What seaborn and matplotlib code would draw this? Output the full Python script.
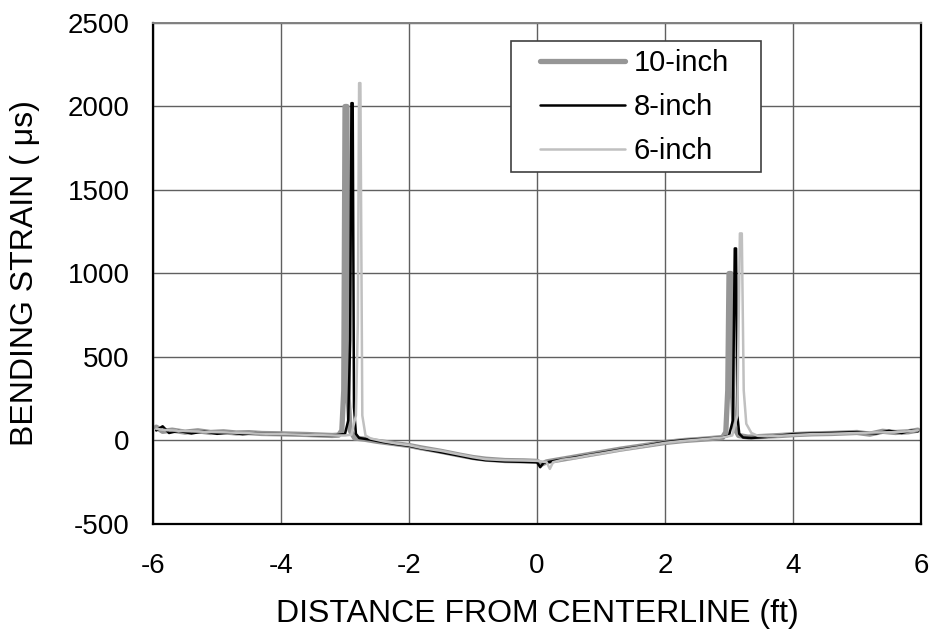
import matplotlib
matplotlib.use("Agg")
import matplotlib.pyplot as plt
from matplotlib.patches import Rectangle
import seaborn as sns
import pandas as pd

# data
x_10 = [-5.95, -5.85, -5.7, -5.5, -5.3, -5.1, -4.9, -4.7, -4.5, -4.3, -4.0, -3.8, -3.6, -3.4, -3.2,
        -3.1, -3.05, -3.02, -3.0, -2.97, -2.95, -2.92, -2.85, -2.7, -2.5, -2.2, -2.0, -1.8, -1.5,
        -1.2, -1.0, -0.8, -0.5, -0.2, 0.0, 0.08, 0.15, 0.3, 0.5, 0.8, 1.0, 1.3, 1.6, 2.0, 2.3, 2.6,
        2.9, 2.95, 2.98, 3.0, 3.03, 3.05, 3.08, 3.15, 3.3, 3.5, 3.8, 4.0, 4.3, 4.6, 5.0, 5.2, 5.4,
        5.6, 5.8, 5.95]
y_10 = [80, 55, 62, 50, 58, 48, 52, 45, 47, 42, 40, 38, 36, 33, 30,
        32, 60, 300, 2000, 2000, 250, 60, 15, 8, -5, -20, -30, -45, -65,
        -88, -102, -112, -120, -122, -125, -140, -128, -118, -105, -85, -72, -52, -35, -12, 0, 8,
        18, 50, 300, 1000, 1000, 320, 80, 30, 20, 24, 30, 35, 40, 42, 48, 38, 55,
        48, 52, 62]

x_8 = [-5.95, -5.85, -5.75, -5.6, -5.4, -5.2, -5.0, -4.8, -4.6, -4.4, -4.2, -4.0, -3.8, -3.6, -3.4,
       -3.2, -3.0, -2.95, -2.92, -2.9, -2.88, -2.86, -2.83, -2.78, -2.6, -2.4, -2.2, -2.0, -1.8,
       -1.5, -1.2, -1.0, -0.8, -0.5, -0.2, 0.0, 0.05, 0.1, 0.3, 0.5, 0.8, 1.0, 1.3, 1.6, 2.0, 2.3,
       2.6, 2.9, 3.0, 3.06, 3.09, 3.11, 3.13, 3.16, 3.22, 3.35, 3.6, 3.8, 4.0, 4.3, 4.6, 5.0,
       5.3, 5.5, 5.7, 5.85, 5.95]
y_8 = [60, 85, 45, 58, 42, 55, 40, 48, 38, 44, 40, 38, 35, 34, 30,
       28, 40, 120, 600, 2020, 2020, 200, 40, 15, 5, -10, -22, -32, -48,
       -70, -92, -108, -118, -125, -128, -130, -160, -135, -120, -108, -88, -75, -55, -38, -10, 2,
       10, 18, 30, 120, 1150, 1150, 150, 40, 18, 15, 22, 30, 38, 42, 45, 50,
       42, 58, 45, 60, 55]

x_6 = [-5.95, -5.8, -5.6, -5.4, -5.2, -5.0, -4.8, -4.6, -4.4, -4.2, -4.0, -3.8, -3.6, -3.4, -3.2,
       -3.0, -2.9, -2.83, -2.8, -2.78, -2.76, -2.73, -2.68, -2.6, -2.4, -2.2, -2.0, -1.8, -1.5,
       -1.2, -1.0, -0.8, -0.5, -0.2, 0.0, 0.15, 0.2, 0.25, 0.4, 0.6, 0.8, 1.0, 1.3, 1.6, 2.0,
       2.3, 2.6, 2.9, 3.05, 3.13, 3.17, 3.2, 3.23, 3.27, 3.35, 3.45, 3.6, 3.8, 4.0, 4.3, 4.6, 5.0,
       5.3, 5.6, 5.8, 5.95]
y_6 = [70, 62, 58, 55, 52, 50, 48, 45, 42, 40, 38, 36, 34, 32, 30,
       30, 35, 150, 700, 2140, 2140, 150, 30, 12, -5, -18, -28, -45, -62,
       -85, -100, -112, -118, -120, -122, -130, -170, -130, -115, -105, -90, -78, -58, -40, -14,
       -2, 8, 18, 30, 150, 1240, 1240, 300, 100, 45, 28, 25, 28, 32, 38, 40, 45,
       48, 50, 55, 60]

series = [("10-inch", x_10, y_10, "#969696", 3.8),
          ("8-inch", x_8, y_8, "black", 1.8),
          ("6-inch", x_6, y_6, "#c0c0c0", 1.8)]

sns.set_style("white")
plt.rcParams['font.family'] = ['Liberation Sans', 'DejaVu Sans']
plt.rcParams['axes.unicode_minus'] = False
plt.rcParams['text.color'] = 'black'
plt.rcParams['axes.labelcolor'] = 'black'
plt.rcParams['xtick.color'] = 'black'
plt.rcParams['ytick.color'] = 'black'

fig = plt.figure(figsize=(9.32, 6.42), dpi=100)
ax = fig.add_axes([0.1642, 0.1838, 0.824, 0.7804])

for name, xs, ys, col, lw in series:
    df = pd.DataFrame({"x": xs, "y": ys})
    sns.lineplot(data=df, x="x", y="y", ax=ax, color=col, linewidth=lw,
                 estimator=None, sort=False, label=name)

ax.set_xlim(-6, 6)
ax.set_ylim(-500, 2500)
ax.set_xticks([-6, -4, -2, 0, 2, 4, 6])
ax.set_yticks([-500, 0, 500, 1000, 1500, 2000, 2500])
ax.grid(True, color="#606060", linewidth=1.0)
ax.set_axisbelow(True)
for side in ["left", "bottom", "right"]:
    ax.spines[side].set_color("black")
    ax.spines[side].set_linewidth(1.6)
ax.spines["top"].set_color("#808080")
ax.spines["top"].set_linewidth(1.4)
ax.tick_params(labelsize=20, labelcolor="black", direction="out", length=7, width=1,
               color="#606060")
ax.tick_params(axis="x", pad=14)
ax.tick_params(axis="y", pad=10)
ax.set_xlabel("DISTANCE FROM CENTERLINE (ft)", fontsize=23, labelpad=14)
ax.set_ylabel("BENDING STRAIN ( μs)", fontsize=23, labelpad=20)

leg = ax.legend(loc="upper left", bbox_to_anchor=(0.504, 0.948), fontsize=21,
                frameon=False, handlelength=2.9, labelspacing=0.55,
                borderpad=0, borderaxespad=0, handletextpad=0.3)
ax.add_patch(Rectangle((0.466, 0.703), 0.326, 0.261, transform=ax.transAxes,
                       facecolor="white", edgecolor="#404040", linewidth=1.2, zorder=4))
leg.set_zorder(5)

fig.savefig("out.png", dpi=100)
